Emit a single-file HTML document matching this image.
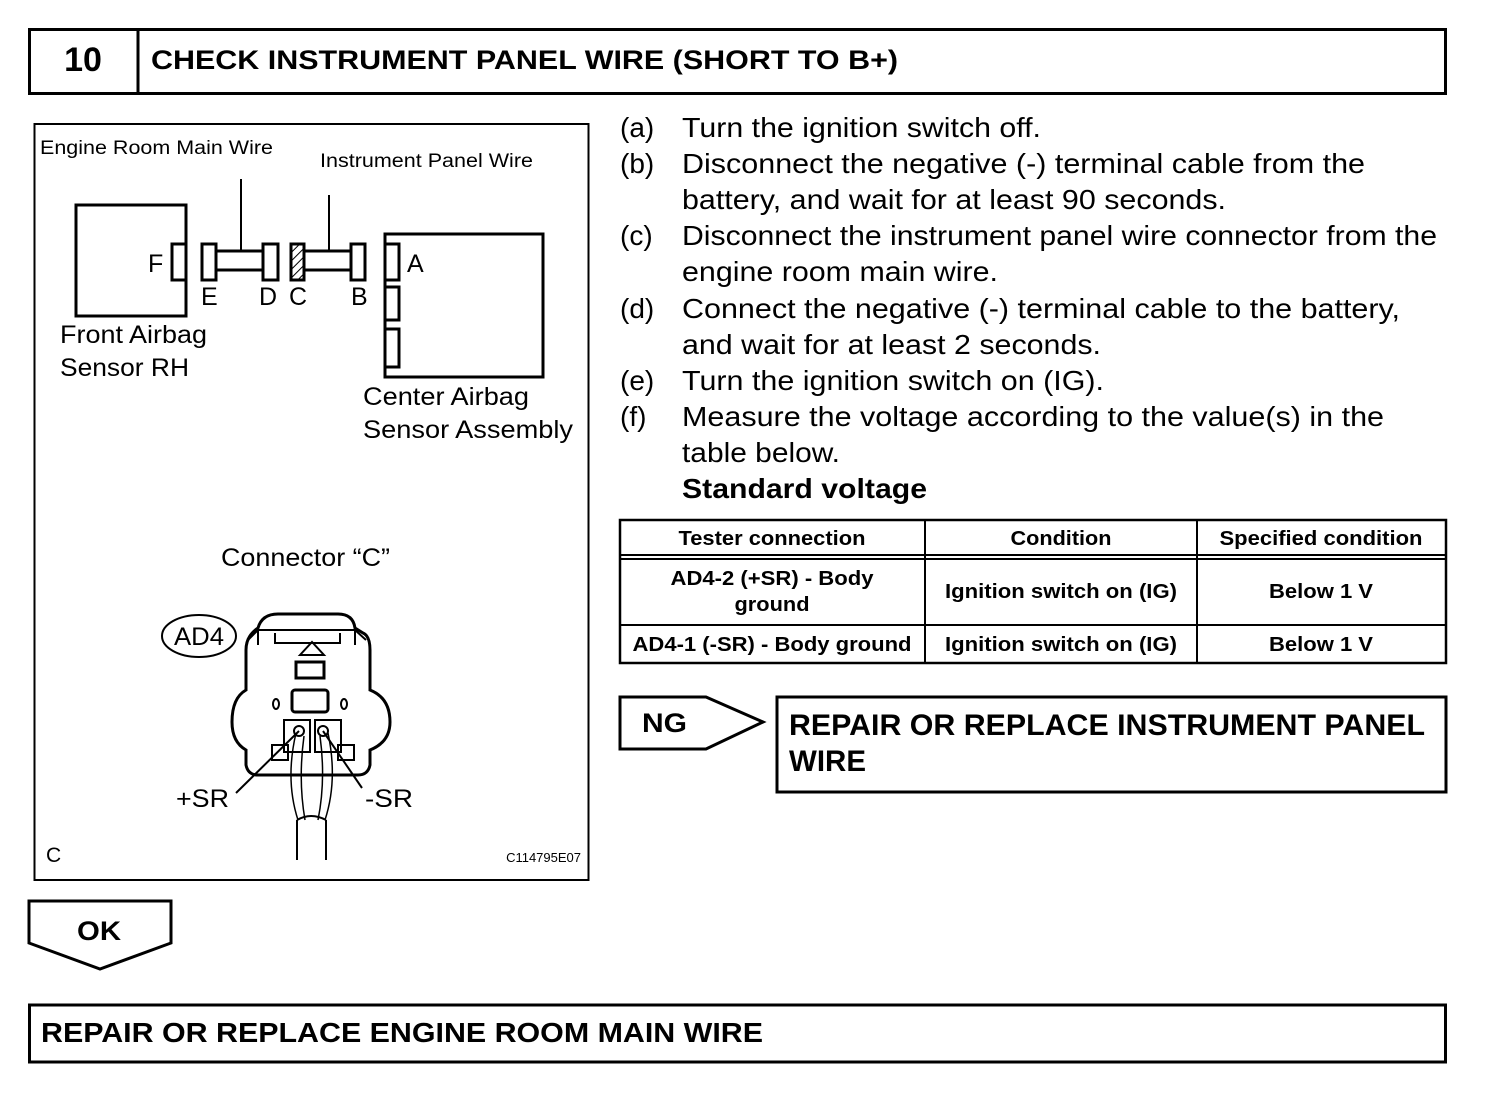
<!DOCTYPE html>
<html><head><meta charset="utf-8"><style>
html,body{margin:0;padding:0;background:#fff;}
svg{display:block;}
text{font-family:"Liberation Sans",Arial,sans-serif;fill:#000;}
.b{font-weight:bold;}
</style></head><body>
<svg width="1504" height="1098" viewBox="0 0 1504 1098" xmlns="http://www.w3.org/2000/svg">
<defs>
<pattern id="h" width="6" height="6" patternUnits="userSpaceOnUse" patternTransform="rotate(45)">
<rect width="6" height="6" fill="#fff"/><line x1="0" y1="0" x2="0" y2="6" stroke="#000" stroke-width="2"/>
</pattern>
</defs>
<g fill="none" stroke="#000">
<rect x="29.5" y="29.5" width="1416" height="64" stroke-width="3"/>
<line x1="138" y1="29" x2="138" y2="94" stroke-width="3"/>
<rect x="34.5" y="124" width="554" height="756" stroke-width="2"/>
<rect x="76" y="205" width="110" height="111" stroke-width="3"/>
<rect x="172" y="244" width="14" height="36" stroke-width="3"/>
<rect x="202" y="244" width="14" height="36" stroke-width="3"/>
<rect x="216" y="251" width="47" height="19" stroke-width="3"/>
<rect x="263" y="244" width="15" height="36" stroke-width="3"/>
<line x1="241" y1="179" x2="241" y2="251" stroke-width="2"/>
<rect x="291" y="244" width="13" height="36" stroke-width="3" fill="url(#h)"/>
<rect x="304" y="251" width="47" height="19" stroke-width="3"/>
<rect x="351" y="244" width="14" height="36" stroke-width="3"/>
<line x1="329" y1="195" x2="329" y2="251" stroke-width="2"/>
<rect x="385" y="234" width="158" height="143" stroke-width="3"/>
<rect x="385" y="244" width="14" height="36" stroke-width="3"/>
<rect x="385" y="287" width="14" height="33" stroke-width="3"/>
<rect x="385" y="329" width="14" height="38" stroke-width="3"/>
<ellipse cx="199" cy="636" rx="37" ry="21" stroke-width="2"/>
<path d="M258 628 Q262 614 278 614 L338 614 Q353 614 355 628 L363 633 Q370 636 370 650 L370 690 Q390 698 390 722 Q390 742 370 750 L370 765 Q368 775 358 775 L258 775 Q248 775 246 765 L246 750 Q232 742 232 722 Q232 698 246 690 L246 650 Q246 636 258 628 Z" stroke-width="3"/>
<path d="M248 640 L258 630 L355 630 L366 640 M258 630 L258 645 M355 630 L355 645" stroke-width="2"/>
<path d="M275 633 L275 643 L340 643 L340 633" stroke-width="2"/>
<path d="M300 655 L312 642 L324 655 Z" stroke-width="2"/>
<rect x="296" y="662" width="28" height="16" stroke-width="3"/>
<rect x="292" y="690" width="36" height="22" rx="3" stroke-width="3"/>
<ellipse cx="276" cy="704" rx="3" ry="5" stroke-width="2"/>
<ellipse cx="344" cy="704" rx="3" ry="5" stroke-width="2"/>
<rect x="284" y="720" width="26" height="32" stroke-width="2"/>
<rect x="315" y="720" width="26" height="32" stroke-width="2"/>
<rect x="272" y="745" width="16" height="15" stroke-width="2"/>
<rect x="338" y="745" width="16" height="15" stroke-width="2"/>
<circle cx="299" cy="731" r="5" stroke-width="2"/>
<circle cx="323" cy="731" r="5" stroke-width="2"/>
<path d="M296 733 Q285 780 298 820 M304 736 Q298 780 305 820 M320 736 Q326 780 318 820 M328 733 Q338 780 325 820" stroke-width="1.5"/>
<path d="M297 820 Q311 812 326 820" stroke-width="2"/>
<line x1="297" y1="820" x2="297" y2="860" stroke-width="2"/>
<line x1="326" y1="820" x2="326" y2="860" stroke-width="2"/>
<line x1="236" y1="793" x2="299" y2="731" stroke-width="2"/>
<line x1="362" y1="788" x2="323" y2="731" stroke-width="2"/>
<rect x="620" y="520" width="826" height="143" stroke-width="2.5"/>
<line x1="620" y1="555" x2="1446" y2="555" stroke-width="2"/>
<line x1="620" y1="559" x2="1446" y2="559" stroke-width="2"/>
<line x1="620" y1="625" x2="1446" y2="625" stroke-width="2"/>
<line x1="925" y1="520" x2="925" y2="663" stroke-width="2"/>
<line x1="1197" y1="520" x2="1197" y2="663" stroke-width="2"/>
<path d="M620 697 L706 697 L763 722 L706 749 L620 749 Z" stroke-width="3"/>
<rect x="777" y="697" width="669" height="95" stroke-width="3"/>
<path d="M29 901 L171 901 L171 943 L100 969 L29 943 Z" stroke-width="3"/>
<rect x="29.5" y="1005" width="1416" height="57" stroke-width="3"/>
</g>
<text x="83" y="71" class="b" font-size="34" text-anchor="middle">10</text>
<text x="151" y="69" class="b" font-size="27" textLength="747" lengthAdjust="spacingAndGlyphs">CHECK INSTRUMENT PANEL WIRE (SHORT TO B+)</text>
<text x="40" y="154" font-size="19" textLength="233" lengthAdjust="spacingAndGlyphs">Engine Room Main Wire</text>
<text x="320" y="167" font-size="19" textLength="213" lengthAdjust="spacingAndGlyphs">Instrument Panel Wire</text>
<text x="148" y="272" font-size="25">F</text>
<text x="407" y="272" font-size="25">A</text>
<text x="201" y="305" font-size="25">E</text>
<text x="259" y="305" font-size="25">D</text>
<text x="289" y="305" font-size="25">C</text>
<text x="351" y="305" font-size="25">B</text>
<text x="60" y="343" font-size="25" textLength="147" lengthAdjust="spacingAndGlyphs">Front Airbag</text>
<text x="60" y="376" font-size="25" textLength="129" lengthAdjust="spacingAndGlyphs">Sensor RH</text>
<text x="363" y="405" font-size="25" textLength="166" lengthAdjust="spacingAndGlyphs">Center Airbag</text>
<text x="363" y="438" font-size="25" textLength="210" lengthAdjust="spacingAndGlyphs">Sensor Assembly</text>
<text x="221" y="566" font-size="25" textLength="169" lengthAdjust="spacingAndGlyphs">Connector “C”</text>
<text x="174" y="645" font-size="25" textLength="50" lengthAdjust="spacingAndGlyphs">AD4</text>
<text x="176" y="807" font-size="25" textLength="53" lengthAdjust="spacingAndGlyphs">+SR</text>
<text x="365" y="807" font-size="25" textLength="48" lengthAdjust="spacingAndGlyphs">-SR</text>
<text x="46" y="862" font-size="21">C</text>
<text x="581" y="862" font-size="13" text-anchor="end">C114795E07</text>
<g font-size="28">
<text x="620" y="137">(a)</text><text x="682" y="137" textLength="359" lengthAdjust="spacingAndGlyphs">Turn the ignition switch off.</text>
<text x="620" y="173">(b)</text><text x="682" y="173" textLength="683" lengthAdjust="spacingAndGlyphs">Disconnect the negative (-) terminal cable from the</text>
<text x="682" y="209" textLength="544" lengthAdjust="spacingAndGlyphs">battery, and wait for at least 90 seconds.</text>
<text x="620" y="245">(c)</text><text x="682" y="245" textLength="755" lengthAdjust="spacingAndGlyphs">Disconnect the instrument panel wire connector from the</text>
<text x="682" y="281" textLength="316" lengthAdjust="spacingAndGlyphs">engine room main wire.</text>
<text x="620" y="318">(d)</text><text x="682" y="318" textLength="718" lengthAdjust="spacingAndGlyphs">Connect the negative (-) terminal cable to the battery,</text>
<text x="682" y="354" textLength="419" lengthAdjust="spacingAndGlyphs">and wait for at least 2 seconds.</text>
<text x="620" y="390">(e)</text><text x="682" y="390" textLength="422" lengthAdjust="spacingAndGlyphs">Turn the ignition switch on (IG).</text>
<text x="620" y="426">(f)</text><text x="682" y="426" textLength="702" lengthAdjust="spacingAndGlyphs">Measure the voltage according to the value(s) in the</text>
<text x="682" y="462" textLength="158" lengthAdjust="spacingAndGlyphs">table below.</text>
<text x="682" y="498" class="b" textLength="245" lengthAdjust="spacingAndGlyphs">Standard voltage</text>
</g>
<g font-size="20" class="b" text-anchor="middle">
<text x="772" y="545" textLength="187" lengthAdjust="spacingAndGlyphs">Tester connection</text>
<text x="1061" y="545" textLength="101" lengthAdjust="spacingAndGlyphs">Condition</text>
<text x="1321" y="545" textLength="203" lengthAdjust="spacingAndGlyphs">Specified condition</text>
<text x="772" y="585" textLength="203" lengthAdjust="spacingAndGlyphs">AD4-2 (+SR) - Body</text>
<text x="772" y="611" textLength="75" lengthAdjust="spacingAndGlyphs">ground</text>
<text x="1061" y="598" textLength="232" lengthAdjust="spacingAndGlyphs">Ignition switch on (IG)</text>
<text x="1321" y="598" textLength="104" lengthAdjust="spacingAndGlyphs">Below 1 V</text>
<text x="772" y="651" textLength="279" lengthAdjust="spacingAndGlyphs">AD4-1 (-SR) - Body ground</text>
<text x="1061" y="651" textLength="232" lengthAdjust="spacingAndGlyphs">Ignition switch on (IG)</text>
<text x="1321" y="651" textLength="104" lengthAdjust="spacingAndGlyphs">Below 1 V</text>
</g>
<text x="642" y="732" class="b" font-size="27" textLength="45" lengthAdjust="spacingAndGlyphs">NG</text>
<text x="789" y="735" class="b" font-size="30" textLength="636" lengthAdjust="spacingAndGlyphs">REPAIR OR REPLACE INSTRUMENT PANEL</text>
<text x="789" y="771" class="b" font-size="30" textLength="77" lengthAdjust="spacingAndGlyphs">WIRE</text>
<text x="77" y="940" class="b" font-size="27" textLength="44" lengthAdjust="spacingAndGlyphs">OK</text>
<text x="41" y="1042" class="b" font-size="28" textLength="722" lengthAdjust="spacingAndGlyphs">REPAIR OR REPLACE ENGINE ROOM MAIN WIRE</text>
</svg>
</body></html>
